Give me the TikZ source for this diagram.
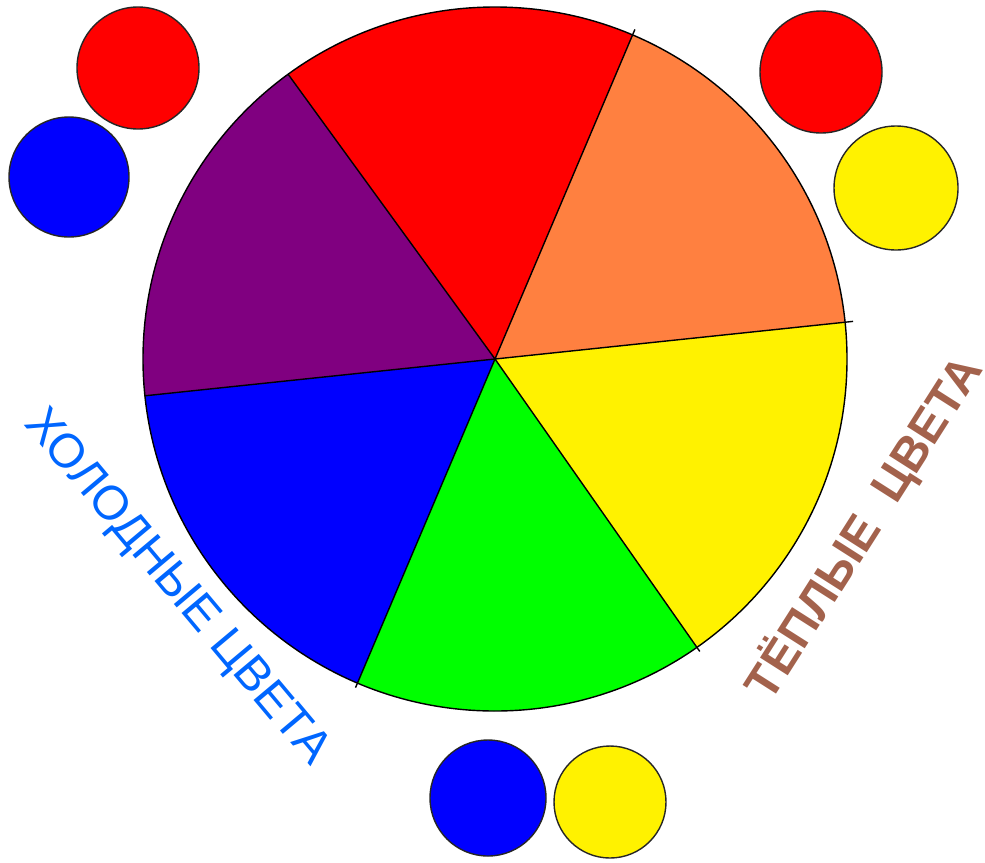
\documentclass[tikz,border=0pt]{standalone}
\usepackage{fontspec}
\setmainfont{Liberation Sans}
\definecolor{wheelorange}{RGB}{255,128,64}
\definecolor{wheelpurple}{RGB}{128,0,128}
\definecolor{coldtext}{RGB}{0,102,255}
\definecolor{warmtext}{RGB}{163,98,76}

\begin{document}
\begin{tikzpicture}[
  dot/.style={circle,draw=black!85,line width=0.4pt,inner sep=0pt,minimum size=#1},
  label/.style={font=\fontsize{13.6}{16}\selectfont}]
 \useasboundingbox (0,0) rectangle (9.85,8.62);
 \coordinate (c) at (4.95,5.03);
 \foreach \a/\b/\col in {6/67/wheelorange,67/126/red,126/186/wheelpurple,186/247/blue,247/305/green,305/366/yellow}
  \fill[\col] (c) -- ++(\a:3.52) arc[start angle=\a,end angle=\b,radius=3.52] -- cycle;
 \draw[line width=0.4pt] (c) circle[radius=3.52];
 \foreach \a/\r in {6/3.6,67/3.58,126/3.52,186/3.52,247/3.57,305/3.57}
  \draw[line width=0.4pt] (c) -- ++(\a:\r);
 \node[dot=1.22cm,fill=red] (coldred) at (1.38,7.94) {};
 \node[dot=1.20cm,fill=blue] (coldblue) at (0.69,6.85) {};
 \node[dot=1.22cm,fill=red] (warmred) at (8.21,7.90) {};
 \node[dot=1.24cm,fill=yellow] (warmyellow) at (8.96,6.74) {};
 \node[dot=1.16cm,fill=blue] (mixblue) at (4.88,0.64) {};
 \node[dot=1.12cm,fill=yellow] (mixyellow) at (6.10,0.60) {};
 \node[label,rotate=-50,text=coldtext] (cold) at (1.76,2.74) {ХОЛОДНЫЕ ЦВЕТА};
 \node[label,rotate=57.5,text=warmtext,font=\fontsize{13.6}{16}\selectfont\bfseries] (warm) at (8.64,3.34) {ТЁПЛЫЕ\ \ ЦВЕТА};
\end{tikzpicture}
\end{document}
